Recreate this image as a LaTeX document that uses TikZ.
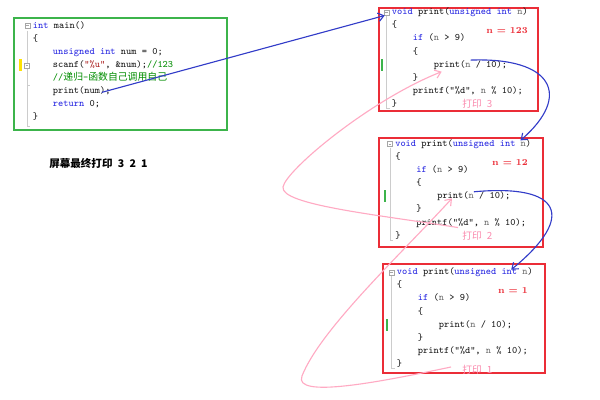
\documentclass[tikz,border=0pt]{standalone}
\usepackage{fontspec}
\usetikzlibrary{positioning,arrows,arrows.meta,calc}
\newfontfamily\cjk{Noto Sans CJK SC}
\definecolor{kwblue}{RGB}{40,40,225}
\definecolor{strred}{RGB}{170,30,30}
\definecolor{cmtgreen}{RGB}{0,140,0}
\definecolor{parmgray}{RGB}{110,110,110}
\definecolor{framered}{RGB}{235,45,55}
\definecolor{framegreen}{RGB}{60,180,75}
\definecolor{callblue}{RGB}{50,60,200}
\definecolor{retpink}{RGB}{255,170,195}
\definecolor{lblpink}{RGB}{250,140,175}
\newcommand{\kw}[1]{\textcolor{kwblue}{#1}}
\newcommand{\strlit}[1]{\textcolor{strred}{#1}}
\newcommand{\cmt}[1]{\textcolor{cmtgreen}{#1}}
\newcommand{\parm}{\textcolor{parmgray}{n}}
\tikzset{
    x=0.025cm,
    y=-0.025cm,
    >={Straight Barb[length=4pt,width=6pt]},
    code/.style = {
        anchor=base west,
        inner sep=0pt,
        text=black!90,
        font=\ttfamily\fontsize{7}{8}\selectfont
    },
    frame/.style = {
        draw=framered,
        line width=1.3pt
    },
    mainframe/.style = {
        draw=framegreen,
        line width=1.3pt
    },
    guide/.style = {
        draw=gray!40,
        line width=0.7pt
    },
    fold/.style = {
        draw=gray!70,
        fill=white,
        line width=0.3pt,
        inner sep=0pt,
        minimum size=3.6pt,
        path picture={\draw[gray!70, line width=0.3pt] ([xshift=0.8pt]path picture bounding box.west) -- ([xshift=-0.8pt]path picture bounding box.east);}
    },
    nval/.style = {
        anchor=east,
        inner sep=0pt,
        text=framered,
        font=\bfseries\fontsize{6.5}{8}\selectfont
    },
    printlbl/.style = {
        anchor=west,
        inner sep=0pt,
        text=lblpink,
        font=\cjk\fontsize{7}{8}\selectfont
    },
    call/.style = {
        draw=callblue,
        line width=0.8pt,
        ->
    },
    ret/.style = {
        draw=retpink,
        line width=0.8pt,
        ->
    },
}
\begin{document}
\begin{tikzpicture}
    \useasboundingbox (0,0) rectangle (600,400);

    % main
    \draw[mainframe] (14,18) rectangle (227,130);
    \draw[guide] (27,31) -- (27,126.7) -- (30,126.7);
    \draw[guide] (27,85) -- (30,85);
    \fill[yellow!85!orange] (19.3,59.5) rectangle (21.5,71.5);
    \node[fold] (mz0) at (27.5,25.7) {};
    \node[fold] (mz3) at (27,65.5) {};
    \node[code] (m0) at (32.7,28.2) {\kw{int} main()};
    \node[code] (m1) at (32.7,41.3) {\{};
    \node[code] (m2) at (52.7,54.4) {\kw{unsigned} \kw{int} num = 0;};
    \node[code] (m3) at (52.7,67.5) {scanf(\strlit{"\%u"}, \&num);\cmt{//123}};
    \node[code] (m4) at (52.7,80.6) {\cmt{//{\cjk 递归}-{\cjk 函数自己调用自己}}};
    \node[code] (mp) at (52.7,93.7) {print(num);};
    \node[code] (m6) at (52.7,106.8) {\kw{return} 0;};
    \node[code] (m7) at (32.7,119.9) {\}};

    \node[anchor=west, inner sep=0pt, font=\cjk\bfseries\fontsize{7.5}{9}\selectfont] (out) at (49,163) {屏幕最终打印\hspace{0.5em}3\hspace{0.5em}2\hspace{0.5em}1};

    % recursive calls
    \foreach \i/\k/\bx/\by/\bxx/\byy/\cx/\cy/\nv/\ly in
        {1/3/379/8/538/111/391.7/12.3/123/104,
         2/2/379/138/543/247/395/144/12/236,
         3/1/383/264/545/373/396.7/272.3/1/370} {
        \draw[frame] (\bx,\by) rectangle (\bxx,\byy);
        \draw[guide] (\cx-5,\cy+4) -- (\cx-5,\cy+96) -- (\cx-2,\cy+96);
        \fill[framegreen] (\cx-11,\cy+46.4) rectangle (\cx-9,\cy+58.4);
        \node[fold] (z\i) at (\cx-5,\cy) {};
        \node[code] (v\i) at (\cx,\cy+2.5) {\kw{void} print(\kw{unsigned} \kw{int} \parm)};
        \node[code] (o\i) at (\cx,\cy+15.6) {\{};
        \node[code] (c\i) at (\cx+21,\cy+28.7) {\kw{if} (\parm{} > 9)};
        \node[code] (q\i) at (\cx+21,\cy+41.8) {\{};
        \node[code] (p\i) at (\cx+42,\cy+54.9) {print(\parm{} / 10);};
        \node[code] (r\i) at (\cx+21,\cy+68) {\}};
        \node[code] (f\i) at (\cx+21,\cy+81.1) {printf("\%d", \parm{} \% 10);};
        \node[code] (e\i) at (\cx,\cy+94.2) {\}};
        \node[nval] (n\i) at (528,\cy+18.5) {n = \nv};
        \node[printlbl] (d\i) at (462,\ly) {打印\hspace{0.5em}\k};
    }

    \coordinate (turn2) at (283,187);
    \coordinate (turn3) at (302,376);

    \draw[call] ($(mp.east)+(-9,1)$) -- ($(v1.west)+(-7,3)$);
    \draw[call] (p1.north) .. controls +(82,-3) and +(52,-45) .. ($(v2.north east)+(-11,1)$);
    \draw[call] (p2.north) .. controls +(87,-8) and +(66,-54) .. ($(v3.north east)+(-22,2)$);

    \draw[ret] ($(d3.west)+(-11,-3)$) .. controls (380,382) and (293,399) .. (turn3)
        .. controls (320,330) and (400,255) .. ($(p2.south west)+(15,-3)$);
    \draw[ret] ($(f2.south west)+(42,0)$) .. controls (380,215) and (280,205) .. (turn2)
        .. controls (286,170) and (370,100) .. ($(p1.south west)+(8,2)$);
\end{tikzpicture}
\end{document}
